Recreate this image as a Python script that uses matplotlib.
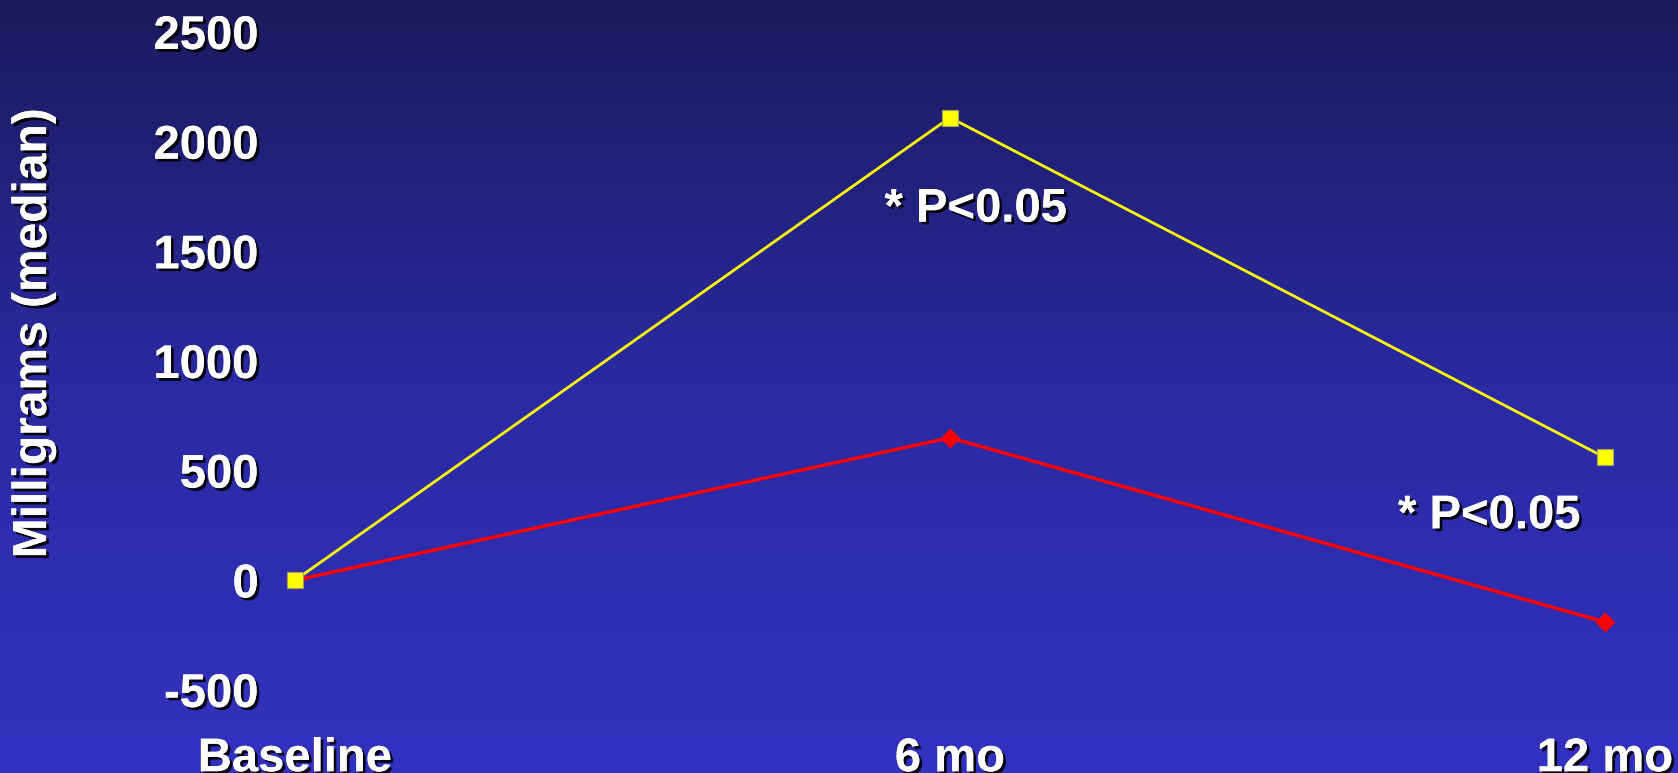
import numpy as np
import matplotlib.pyplot as plt
import matplotlib.patheffects as pe
from matplotlib.colors import LinearSegmentedColormap

plt.rcParams['font.family'] = ['Liberation Sans', 'DejaVu Sans']
plt.rcParams['font.weight'] = 'bold'
plt.rcParams['axes.unicode_minus'] = False

timepoints = ['Baseline', '6 mo', '12 mo']
yellow_vals = [0, 2110, 560]
red_vals = [0, 650, -190]
yticks = [-500, 0, 500, 1000, 1500, 2000, 2500]

shadow = [pe.withSimplePatchShadow(offset=(2, -2), shadow_rgbFace='black', alpha=0.9), pe.Normal()]

fig = plt.figure(figsize=(16.78, 7.73), dpi=100)

# blue gradient backdrop
bg = fig.add_axes([0, 0, 1, 1], zorder=0)
grad_cmap = LinearSegmentedColormap.from_list('bg', ['#1b1a5c', '#2a2aa2', '#3232c0'])
bg.imshow(np.linspace(0, 1, 256).reshape(-1, 1), aspect='auto', cmap=grad_cmap,
          extent=[0, 1, 0, 1], origin='upper')
bg.axis('off')

ax = fig.add_axes([0.1758, 0.1074, 0.7807, 0.8512], zorder=1)
ax.patch.set_alpha(0)
x = np.arange(len(timepoints))
ax.plot(x, red_vals, color='#ff0000', lw=2.5, marker='D', ms=9, mec='#ff0000', clip_on=False)
ax.plot(x, yellow_vals, color='#ffff00', lw=2, marker='s', ms=11, mec='#a0a060', mew=0.8,
        clip_on=False)

ax.set_xlim(0, 2)
ax.set_ylim(-500, 2500)
ax.set_xticks(x)
ax.set_xticklabels(timepoints)
ax.set_yticks(yticks)
ax.tick_params(axis='both', length=0, colors='white', labelsize=34)
ax.tick_params(axis='x', pad=34)
ax.tick_params(axis='y', pad=26)
for lab in ax.get_xticklabels() + ax.get_yticklabels():
    lab.set_fontweight('bold')
    lab.set_path_effects(shadow)
for s in ax.spines.values():
    s.set_visible(False)

fig.text(0.02, 0.569, 'Milligrams (median)', color='white', fontsize=34.5, fontweight='bold',
         rotation=90, ha='center', va='center', path_effects=shadow)

for xp, yp in [(0.9, 1690), (1.684, 292)]:
    ax.text(xp, yp, '* P<0.05', color='white', fontsize=34, fontweight='bold',
            ha='left', va='center', path_effects=shadow)

fig.savefig('out.png', dpi=100)
